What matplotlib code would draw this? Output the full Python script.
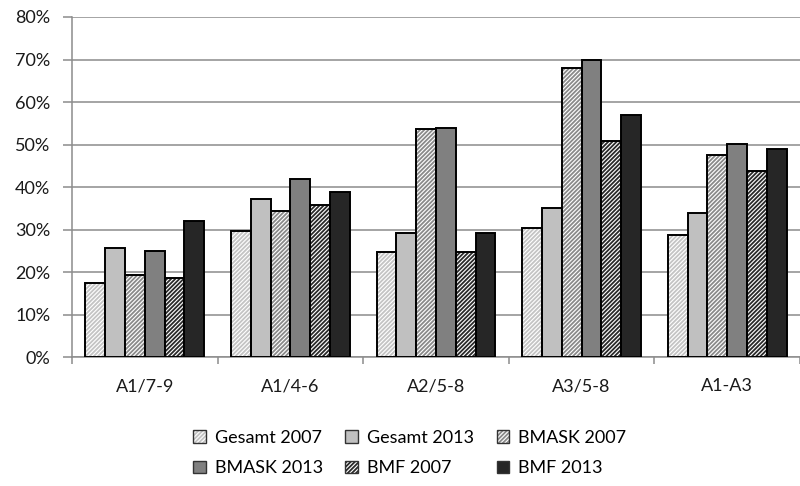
import numpy as np
import matplotlib
matplotlib.use('agg')
import matplotlib.pyplot as plt
from matplotlib.patches import Patch
from matplotlib.legend_handler import HandlerTuple

plt.rcParams['font.family'] = ['Lato', 'DejaVu Sans']
plt.rcParams['hatch.linewidth'] = 1.3

categories = ['A1/7-9', 'A1/4-6', 'A2/5-8', 'A3/5-8', 'A1-A3']
series_names = ['Gesamt 2007', 'Gesamt 2013', 'BMASK 2007', 'BMASK 2013', 'BMF 2007', 'BMF 2013']
gesamt_2007 = [17.5, 29.7, 24.8, 30.4, 28.8]
gesamt_2013 = [25.8, 37.2, 29.2, 35.2, 34.0]
bmask_2007 = [19.4, 34.5, 53.6, 67.9, 47.5]
bmask_2013 = [25.0, 42.0, 53.8, 70.0, 50.1]
bmf_2007 = [18.7, 35.8, 24.8, 50.9, 43.9]
bmf_2013 = [32.0, 38.8, 29.2, 57.0, 48.9]
values = [gesamt_2007, gesamt_2013, bmask_2007, bmask_2013, bmf_2007, bmf_2013]

# (face colour, hatch colour or None)
styles = [('white', '#c4c4c4'), ('#c0c0c0', None), ('white', '#8a8a8a'),
          ('#808080', None), ('white', '#2a2a2a'), ('#262626', None)]
HATCH = '/' * 8

fig = plt.figure(figsize=(8, 4.86), dpi=100)
ax = fig.add_axes([0.09, 0.2648, 0.91, 0.7003])

x = np.arange(len(categories))
w = 0.136
handles = []
for i, (name, vals) in enumerate(zip(series_names, values)):
    face, hcol = styles[i]
    pos = x + (i - 2.5) * w
    if hcol:
        ax.bar(pos, vals, w, color='white', edgecolor=hcol, hatch=HATCH, linewidth=0, zorder=3)
        ax.bar(pos, vals, w, color='none', edgecolor='black', linewidth=1.4, zorder=4)
        h = (Patch(facecolor='white', edgecolor=hcol, hatch=HATCH, linewidth=0),
             Patch(facecolor='none', edgecolor='#333333', linewidth=1.0))
    else:
        ax.bar(pos, vals, w, color=face, edgecolor='black', linewidth=1.4, zorder=3)
        h = (Patch(facecolor=face, edgecolor='#333333', linewidth=1.0),)
    handles.append(h)

ax.set_xlim(-0.5, 4.5)
ax.set_ylim(0, 80)
ax.set_yticks(np.arange(0, 81, 10))
ax.set_yticklabels([f'{v}%' for v in range(0, 81, 10)])
ax.yaxis.grid(True, color='#8c8c8c', linewidth=1.1)
ax.set_axisbelow(True)

ax.set_xticks(x)
ax.set_xticklabels(categories)
ax.set_xticks(np.arange(-0.5, 5, 1), minor=True)
ax.tick_params(axis='x', which='major', length=0, pad=15)
ax.tick_params(axis='x', which='minor', length=5, color='#8c8c8c', width=1.1)
ax.tick_params(axis='y', length=6.5, color='#8c8c8c', width=1.1, pad=9)
ax.tick_params(labelsize=13, labelcolor='#1a1a1a')

for s in ['top', 'right']:
    ax.spines[s].set_visible(False)
for s in ['left', 'bottom']:
    ax.spines[s].set_color('#8c8c8c')
    ax.spines[s].set_linewidth(1.1)

order = [0, 3, 1, 4, 2, 5]
fig.legend([handles[i] for i in order], [series_names[i] for i in order],
           handler_map={tuple: HandlerTuple(ndivide=1, pad=0)},
           ncol=3, loc='center left', bbox_to_anchor=(193 / 800, 0.068), frameon=False,
           fontsize=13, handlelength=0.7, handleheight=0.7, handletextpad=0.5,
           columnspacing=1.25, labelspacing=0.8, borderpad=0, borderaxespad=0)

fig.savefig('out.png', dpi=100)
